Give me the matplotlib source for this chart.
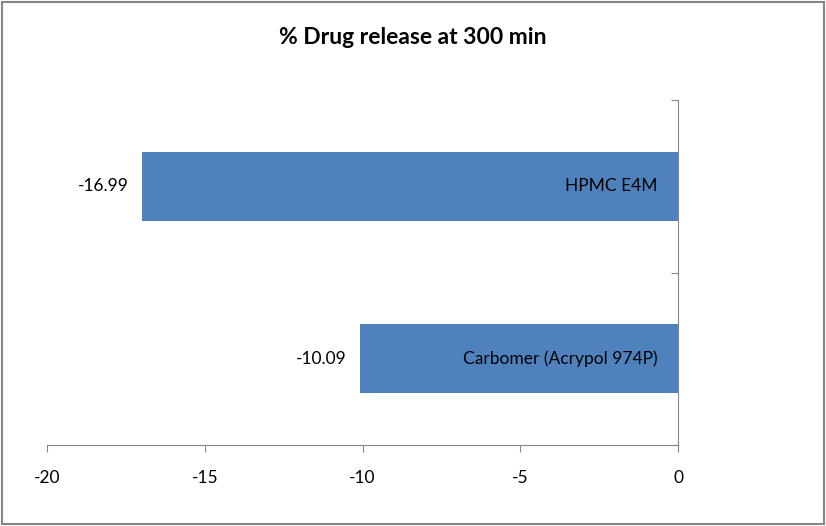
import matplotlib
matplotlib.use('Agg')
import matplotlib.pyplot as plt
from matplotlib.patches import Rectangle

# data
categories = ['Carbomer (Acrypol 974P)', 'HPMC E4M']
values = [-10.09, -16.99]
value_labels = ['-10.09', '-16.99']
x_ticks = [-20, -15, -10, -5, 0]

plt.rcParams['font.family'] = ['Lato', 'DejaVu Sans']

fig = plt.figure(figsize=(8.26, 5.26), dpi=100)
ax = fig.add_axes([47 / 826, 1 - 445 / 526, (678 - 47) / 826, (445 - 100) / 526])

pos = range(len(categories))
bars = ax.barh(pos, values, height=0.4, color='#4F81BD')
ax.bar_label(bars, labels=value_labels, padding=9.5, fontsize=12.5, color='black')

for i, name in zip(pos, categories):
    ax.annotate(name, xy=(0, i), xytext=(-15, 0), textcoords='offset points',
                ha='right', va='center', fontsize=12.5)

ax.set_xlim(-20, 0)
ax.set_ylim(-0.5, 1.5)
ax.set_xticks(x_ticks)
ax.set_xticklabels([str(t) for t in x_ticks], fontsize=12.5)
ax.set_yticks([-0.5, 0.5, 1.5])
ax.set_yticklabels([])
ax.yaxis.tick_right()

gray = '#868686'
for side in ['top', 'left']:
    ax.spines[side].set_visible(False)
for side in ['bottom', 'right']:
    ax.spines[side].set_color(gray)
ax.tick_params(axis='x', direction='out', length=5, color=gray, pad=13)
ax.tick_params(axis='y', direction='in', length=5, color=gray)

fig.text(0.5, 1 - 37 / 526, '% Drug release at 300 min', ha='center', va='center',
         fontsize=16.5, fontweight='bold')

fig.patches.append(Rectangle((0.003, 0.004), 0.994, 0.992, transform=fig.transFigure,
                             fill=False, edgecolor=gray, linewidth=1.5))

fig.savefig('out.png', dpi=100)
